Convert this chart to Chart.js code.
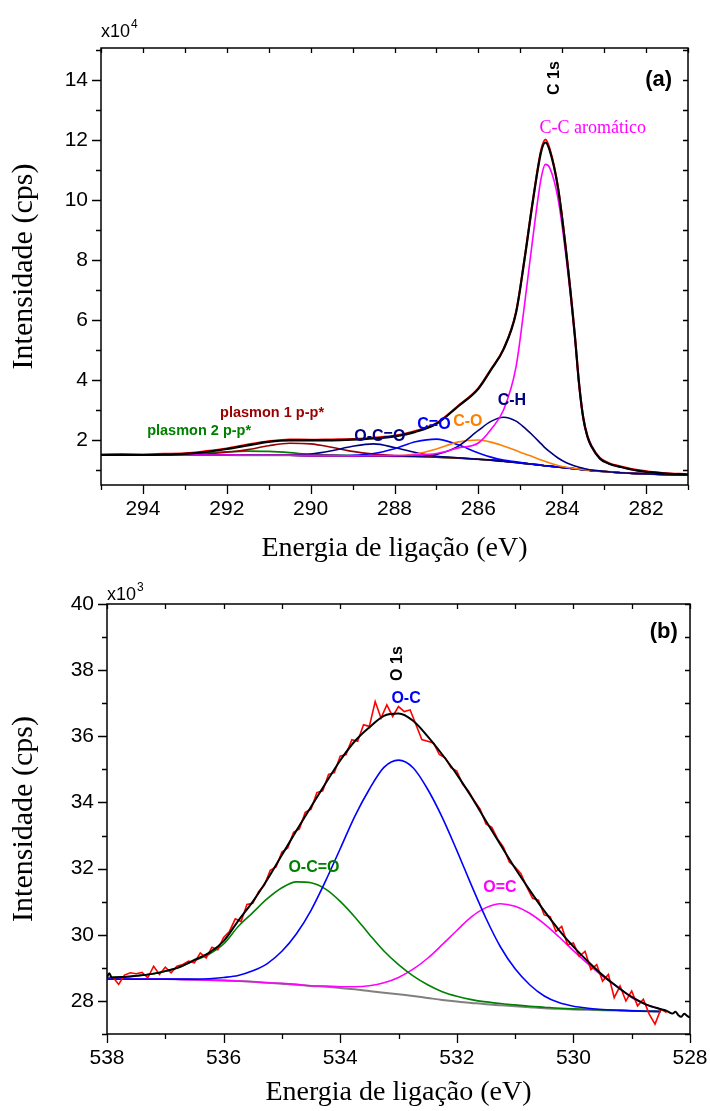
<!DOCTYPE html>
<html>
<head>
<meta charset="utf-8">
<script src="https://cdn.jsdelivr.net/npm/chart.js@4.4.1/dist/chart.umd.min.js"></script>
<style>
body { margin: 0; background: #fff; }
#wrap { position: relative; width: 710px; height: 1111px; }
canvas { position: absolute; left: 0; }
#cA { top: 0; }
#cB { top: 570px; }
</style>
</head>
<body>
<div id="wrap">
<canvas id="cA" width="710" height="570"></canvas>
<canvas id="cB" width="710" height="541"></canvas>
</div>
<script>
// ---- (a) C 1s, intensidade em x10^4 cps ----
const eA = [295,294.5,294,293.5,293,292.5,292,291.5,291,290.5,290,289.5,289,288.5,288,287.5,287,286.5,286,285.7,285.4,285.1,284.9,284.7,284.5,284.4,284.3,284.1,283.9,283.7,283.6,283.5,283.4,283.3,283.1,282.9,282.6,282.2,281.6,281];
const bgA  = [1.50,1.50,1.50,1.50,1.50,1.50,1.50,1.49,1.49,1.49,1.48,1.48,1.47,1.47,1.46,1.45,1.43,1.40,1.36,1.33,1.29,1.25,1.22,1.19,1.16,1.14,1.13,1.10,1.07,1.04,1.025,1.01,0.995,0.98,0.96,0.94,0.91,0.88,0.85,0.83];
const ccA  = [1.50,1.50,1.50,1.50,1.50,1.50,1.50,1.49,1.49,1.49,1.48,1.48,1.47,1.48,1.48,1.50,1.55,1.73,1.90,2.35,3.00,4.45,6.50,8.75,10.75,11.19,11.08,10.05,8.01,5.40,3.83,2.70,2.09,1.76,1.37,1.22,1.10,0.98,0.89,0.85];
const chA  = [1.50,1.50,1.50,1.50,1.50,1.50,1.50,1.49,1.49,1.49,1.48,1.48,1.47,1.47,1.46,1.46,1.52,1.78,2.32,2.62,2.76,2.63,2.41,2.15,1.87,1.73,1.61,1.40,1.24,1.13,1.09,1.06,1.025,1.00,0.97,0.94,0.91,0.88,0.85,0.83];
const coA  = [1.50,1.50,1.50,1.50,1.50,1.50,1.50,1.49,1.49,1.49,1.48,1.48,1.47,1.47,1.47,1.53,1.70,1.93,2.00,1.93,1.80,1.65,1.54,1.44,1.33,1.28,1.23,1.15,1.09,1.05,1.035,1.015,1.00,0.985,0.96,0.94,0.91,0.88,0.85,0.83];
const c2oA = [1.50,1.50,1.50,1.50,1.50,1.50,1.50,1.49,1.49,1.49,1.48,1.48,1.49,1.55,1.71,1.94,2.03,1.85,1.57,1.43,1.33,1.27,1.23,1.19,1.16,1.14,1.13,1.10,1.07,1.04,1.025,1.01,0.995,0.98,0.96,0.94,0.91,0.88,0.85,0.83];
const ocoA = [1.50,1.50,1.50,1.50,1.50,1.50,1.50,1.49,1.49,1.50,1.53,1.64,1.79,1.87,1.75,1.58,1.46,1.41,1.36,1.33,1.29,1.25,1.22,1.19,1.16,1.14,1.13,1.10,1.07,1.04,1.025,1.01,0.995,0.98,0.96,0.94,0.91,0.88,0.85,0.83];
const pl1A = [1.50,1.50,1.50,1.50,1.51,1.53,1.59,1.68,1.81,1.89,1.87,1.76,1.62,1.53,1.48,1.46,1.43,1.40,1.36,1.33,1.29,1.25,1.22,1.19,1.16,1.14,1.13,1.10,1.07,1.04,1.025,1.01,0.995,0.98,0.96,0.94,0.91,0.88,0.85,0.83];
const pl2A = [1.50,1.50,1.50,1.51,1.53,1.57,1.61,1.63,1.62,1.58,1.52,1.50,1.48,1.47,1.46,1.45,1.43,1.40,1.36,1.33,1.29,1.25,1.22,1.19,1.16,1.14,1.13,1.10,1.07,1.04,1.025,1.01,0.995,0.98,0.96,0.94,0.91,0.88,0.85,0.83];
const envA = [1.50,1.50,1.50,1.51,1.54,1.60,1.70,1.82,1.94,1.99,1.99,1.99,2.01,2.05,2.12,2.27,2.54,3.10,3.71,4.34,5.02,6.25,8.01,9.96,11.63,11.92,11.66,10.40,8.20,5.50,3.90,2.75,2.12,1.78,1.38,1.22,1.10,0.98,0.89,0.85];
const rawA = [1.52,1.53,1.52,1.54,1.56,1.63,1.72,1.85,1.96,2.02,2.01,2.02,2.03,2.08,2.14,2.30,2.56,3.12,3.73,4.36,5.04,6.28,8.04,10.00,11.69,12.02,11.72,10.43,8.23,5.53,3.93,2.78,2.15,1.80,1.40,1.24,1.12,1.00,0.90,0.86];
const xTicksA = [281,282,283,284,285,286,287,288,289,290,291,292,293,294,295];
const yTicksA = [1,2,3,4,5,6,7,8,9,10,11,12,13,14,15];

// ---- (b) O 1s, intensidade em x10^3 cps ----
const eB = [538,537.75,537.5,537.25,537,536.75,536.5,536.25,536,535.75,535.5,535.25,535,534.75,534.5,534.25,534,533.75,533.5,533.25,533,532.75,532.5,532.25,532,531.75,531.5,531.25,531,530.75,530.5,530.25,530,529.75,529.5,529.25,529,528.75,528.5];
const bgB  = [28.66,28.66,28.66,28.66,28.66,28.65,28.64,28.63,28.62,28.60,28.58,28.55,28.52,28.49,28.45,28.43,28.39,28.35,28.30,28.25,28.20,28.15,28.09,28.03,27.98,27.94,27.90,27.87,27.84,27.81,27.78,27.76,27.74,27.73,27.72,27.71,27.70,27.69,27.68];
const ocB  = [28.66,28.66,28.66,28.66,28.66,28.66,28.66,28.67,28.71,28.77,28.91,29.13,29.50,30.03,30.74,31.63,32.60,33.58,34.40,35.06,35.28,35.05,34.40,33.55,32.55,31.50,30.50,29.63,28.97,28.49,28.15,27.95,27.84,27.78,27.74,27.72,27.70,27.69,27.68];
const ocoB = [28.71,28.72,28.76,28.81,28.90,29.02,29.22,29.41,29.72,30.25,30.67,31.09,31.42,31.60,31.57,31.38,31.01,30.54,30.01,29.51,29.10,28.76,28.49,28.28,28.14,28.04,27.97,27.92,27.88,27.84,27.81,27.78,27.76,27.75,27.73,27.72,27.70,27.69,27.68];
const ocmB = [28.66,28.66,28.66,28.66,28.66,28.65,28.64,28.63,28.62,28.60,28.58,28.55,28.53,28.50,28.46,28.45,28.43,28.43,28.46,28.55,28.71,28.96,29.29,29.70,30.13,30.54,30.82,30.94,30.86,30.65,30.33,29.94,29.52,29.12,28.75,28.44,28.10,27.89,27.75];
const eEnvB = [538,537.96,537.92,537.75,537.5,537.25,537,536.75,536.5,536.25,536,535.75,535.5,535.25,535,534.75,534.5,534.25,534,533.75,533.5,533.25,533,532.75,532.5,532.25,532,531.75,531.5,531.25,531,530.75,530.5,530.25,530,529.75,529.5,529.25,529,528.75,528.5,528.4,528.3,528.25,528.2,528.15,528.1,528.05,528];
const envB = [28.72,28.84,28.71,28.72,28.76,28.81,28.90,29.03,29.24,29.45,29.81,30.42,31.00,31.67,32.41,33.15,33.87,34.58,35.27,35.85,36.27,36.62,36.69,36.47,36.00,35.45,34.85,34.17,33.44,32.72,32.01,31.35,30.72,30.15,29.64,29.19,28.78,28.43,28.12,27.89,27.75,27.70,27.62,27.67,27.57,27.52,27.61,27.55,27.49];
const eRawB = [537.9,537.8,537.7,537.6,537.5,537.4,537.3,537.2,537.1,537.0,536.9,536.8,536.7,536.6,536.5,536.4,536.3,536.2,536.1,536.0,535.9,535.8,535.7,535.6,535.5,535.4,535.3,535.2,535.1,535.0,534.9,534.8,534.7,534.6,534.5,534.4,534.3,534.2,534.1,534.0,533.9,533.8,533.7,533.6,533.5,533.4,533.3,533.2,533.1,533.0,532.9,532.8,532.7,532.6,532.5,532.4,532.3,532.2,532.1,532.0,531.9,531.8,531.7,531.6,531.5,531.4,531.3,531.2,531.1,531.0,530.9,530.8,530.7,530.6,530.5,530.4,530.3,530.2,530.1,530.0,529.9,529.8,529.7,529.6,529.5,529.4,529.3,529.2,529.1,529.0,528.9,528.8,528.7,528.6,528.5,528.4];
const rawB = [28.72,28.50,28.78,28.85,28.82,28.86,28.70,29.05,28.80,29.02,
  28.85,29.05,29.10,29.20,29.15,29.45,29.30,29.62,29.55,29.92,
  30.10,30.48,30.40,30.92,30.95,31.30,31.50,31.95,32.05,32.50,
  32.62,33.10,33.20,33.70,33.80,34.30,34.35,34.85,34.90,35.40,
  35.45,35.90,35.85,36.35,36.30,37.05,36.55,36.95,36.60,36.90,
  36.75,36.80,36.35,35.90,35.85,35.80,35.45,35.35,35.05,34.95,
  34.55,34.35,34.05,33.80,33.35,33.25,32.90,32.65,32.20,32.05,
  31.85,31.45,31.10,31.05,30.60,30.55,30.10,30.25,29.70,29.75,
  29.35,29.50,28.95,29.10,28.60,28.80,28.10,28.45,28.00,28.30,
  27.85,28.05,27.60,27.30,27.75,27.65];
const xTicksB = [528,529,530,531,532,533,534,535,536,537,538];
const yTicksB = [27,28,29,30,31,32,33,34,35,36,37,38,39,40];

const SANS = '"Liberation Sans", Arial, sans-serif';
const SERIF = '"Liberation Serif", "Times New Roman", serif';

function toXY(xs, ys) {
  return xs.map((x, i) => ({ x: x, y: ys[i] }));
}

function serie(label, xs, ys, color, width, smooth) {
  return {
    label: label,
    data: toXY(xs, ys),
    borderColor: color,
    borderWidth: width,
    pointRadius: 0,
    fill: false,
    tension: 0,
    cubicInterpolationMode: smooth ? 'monotone' : 'default'
  };
}

// moldura e marcas (maiores para fora, menores mais curtas)
const frameTicks = {
  id: 'frameTicks',
  afterDraw(chart) {
    const { ctx, chartArea: a, scales } = chart;
    const x = scales.x, y = scales.y;
    ctx.save();
    ctx.strokeStyle = '#000';
    ctx.lineWidth = 1.5;
    ctx.strokeRect(a.left, a.top, a.right - a.left, a.bottom - a.top);
    ctx.lineWidth = 1.3;
    ctx.beginPath();
    x.ticks.forEach(t => {
      const px = Math.round(x.getPixelForValue(t.value)) + 0.5;
      const len = t.value % 2 === 0 ? 9 : 5;
      ctx.moveTo(px, a.bottom); ctx.lineTo(px, a.bottom + len);
      ctx.moveTo(px, a.top); ctx.lineTo(px, a.top + 5);
    });
    y.ticks.forEach(t => {
      const py = Math.round(y.getPixelForValue(t.value)) + 0.5;
      const len = t.value % 2 === 0 ? 9 : 5;
      ctx.moveTo(a.left, py); ctx.lineTo(a.left - len, py);
      ctx.moveTo(a.right, py); ctx.lineTo(a.right - 5, py);
    });
    ctx.stroke();
    ctx.restore();
  }
};

function textPlugin(items) {
  return {
    id: 'textLabels',
    afterDraw(chart) {
      const { ctx, scales } = chart;
      items.forEach(l => {
        const px = scales.x.getPixelForValue(l.x);
        const py = scales.y.getPixelForValue(l.y);
        ctx.save();
        ctx.fillStyle = l.color || '#000';
        ctx.font = l.font;
        ctx.translate(px, py);
        if (l.rot) ctx.rotate(l.rot);
        if (l.sup) {
          ctx.textAlign = 'left';
          ctx.textBaseline = 'alphabetic';
          ctx.fillText(l.text, 0, 0);
          const w = ctx.measureText(l.text).width;
          ctx.font = '12px ' + SANS;
          ctx.fillText(l.sup, w + 1, -9);
        } else {
          ctx.textAlign = 'center';
          ctx.textBaseline = 'middle';
          ctx.fillText(l.text, 0, 0);
        }
        ctx.restore();
      });
    }
  };
}

function axes(cfg) {
  return {
    x: {
      type: 'linear', reverse: true, min: cfg.xMin, max: cfg.xMax,
      afterBuildTicks: s => { s.ticks = cfg.xTicks.map(v => ({ value: v })); },
      afterFit: s => { s.height = cfg.xHeight; },
      grid: { display: false, drawTicks: true, tickLength: 9 },
      border: { display: false },
      ticks: {
        autoSkip: false, maxRotation: 0, padding: 3, color: '#000',
        font: { family: SANS, size: 21 },
        callback: v => (v % 2 === 0 ? v : '')
      },
      title: {
        display: true, text: 'Energia de ligação (eV)', color: '#000',
        font: { family: SERIF, size: 28 }, padding: { top: 0, bottom: cfg.xTitlePad }
      }
    },
    y: {
      type: 'linear', min: cfg.yMin, max: cfg.yMax,
      afterBuildTicks: s => { s.ticks = cfg.yTicks.map(v => ({ value: v })); },
      afterFit: s => { s.width = cfg.yWidth; },
      grid: { display: false, drawTicks: true, tickLength: 9 },
      border: { display: false },
      ticks: {
        autoSkip: false, padding: 4, color: '#000',
        font: { family: SANS, size: 21 },
        callback: v => (v % 2 === 0 ? v : '')
      },
      title: {
        display: true, text: 'Intensidade (cps)', color: '#000',
        font: { family: SERIF, size: 30 }, padding: { top: 6, bottom: 0 }
      }
    }
  };
}

const baseOpts = {
  responsive: false,
  animation: false,
  devicePixelRatio: 1,
  events: [],
  plugins: { legend: { display: false }, tooltip: { enabled: false } }
};

const labelsA = [
  { text: 'x10', sup: '4', x: 295, y: 15.43, font: '18px ' + SANS },
  { text: 'C 1s', x: 284.17, y: 14.07, font: 'bold 16px ' + SANS, rot: -Math.PI / 2 },
  { text: '(a)', x: 281.7, y: 14.0, font: 'bold 22px ' + SANS },
  { text: 'C-C aromático', x: 283.27, y: 12.4, color: '#FF00FF', font: '18px ' + SERIF },
  { text: 'C-H', x: 285.2, y: 3.3, color: '#000080', font: 'bold 16px ' + SANS },
  { text: 'C-O', x: 286.25, y: 2.63, color: '#FF8000', font: 'bold 16px ' + SANS },
  { text: 'C=O', x: 287.06, y: 2.5, color: '#0000FF', font: 'bold 16px ' + SANS },
  { text: 'O-C=O', x: 288.35, y: 2.1, color: '#000080', font: 'bold 16px ' + SANS },
  { text: 'plasmon 1 p-p*', x: 290.92, y: 2.9, color: '#990000', font: 'bold 14.5px ' + SANS },
  { text: 'plasmon 2 p-p*', x: 292.66, y: 2.3, color: '#008000', font: 'bold 14.5px ' + SANS }
];

new Chart(document.getElementById('cA'), {
  type: 'line',
  data: {
    datasets: [
      serie('Envelope', eA, envA, '#000000', 2.2, true),
      serie('Dados', eA, rawA, '#FF0000', 2, true),
      serie('C-C aromático', eA, ccA, '#FF00FF', 1.6, true),
      serie('C-H', eA, chA, '#000080', 1.6, true),
      serie('C-O', eA, coA, '#FF8000', 1.6, true),
      serie('C=O', eA, c2oA, '#0000FF', 1.6, true),
      serie('O-C=O', eA, ocoA, '#000080', 1.6, true),
      serie('plasmon 1', eA, pl1A, '#990000', 1.6, true),
      serie('plasmon 2', eA, pl2A, '#008000', 1.6, true),
      serie('Fundo', eA, bgA, '#808080', 2, true)
    ]
  },
  options: Object.assign({}, baseOpts, {
    layout: { padding: { left: 0, right: 22, top: 48, bottom: 0 } },
    scales: axes({ xMin: 281, xMax: 295, xTicks: xTicksA, xHeight: 85, xTitlePad: 5,
                   yMin: 0.5, yMax: 15.07, yTicks: yTicksA, yWidth: 101 })
  }),
  plugins: [frameTicks, textPlugin(labelsA)]
});

const labelsB = [
  { text: 'x10', sup: '3', x: 538, y: 40.13, font: '18px ' + SANS },
  { text: 'O 1s', x: 533.01, y: 38.2, font: 'bold 16px ' + SANS, rot: -Math.PI / 2 },
  { text: '(b)', x: 528.45, y: 39.15, font: 'bold 22px ' + SANS },
  { text: 'O-C', x: 532.87, y: 37.15, color: '#0000FF', font: 'bold 16px ' + SANS },
  { text: 'O-C=O', x: 534.45, y: 32.03, color: '#008000', font: 'bold 16px ' + SANS },
  { text: 'O=C', x: 531.26, y: 31.43, color: '#FF00FF', font: 'bold 16px ' + SANS }
];

new Chart(document.getElementById('cB'), {
  type: 'line',
  data: {
    datasets: [
      serie('Envelope', eEnvB, envB, '#000000', 2, true),
      serie('Dados', eRawB, rawB, '#FF0000', 1.6, false),
      serie('O-C', eB, ocB, '#0000FF', 1.6, true),
      serie('O-C=O', eB, ocoB, '#008000', 1.6, true),
      serie('O=C', eB, ocmB, '#FF00FF', 1.6, true),
      serie('Fundo', eB, bgB, '#808080', 2, true)
    ]
  },
  options: Object.assign({}, baseOpts, {
    layout: { padding: { left: 0, right: 20, top: 34, bottom: 0 } },
    scales: axes({ xMin: 528, xMax: 538, xTicks: xTicksB, xHeight: 77, xTitlePad: 2,
                   yMin: 27, yMax: 40, yTicks: yTicksB, yWidth: 107 })
  }),
  plugins: [frameTicks, textPlugin(labelsB)]
});
</script>
</body>
</html>
